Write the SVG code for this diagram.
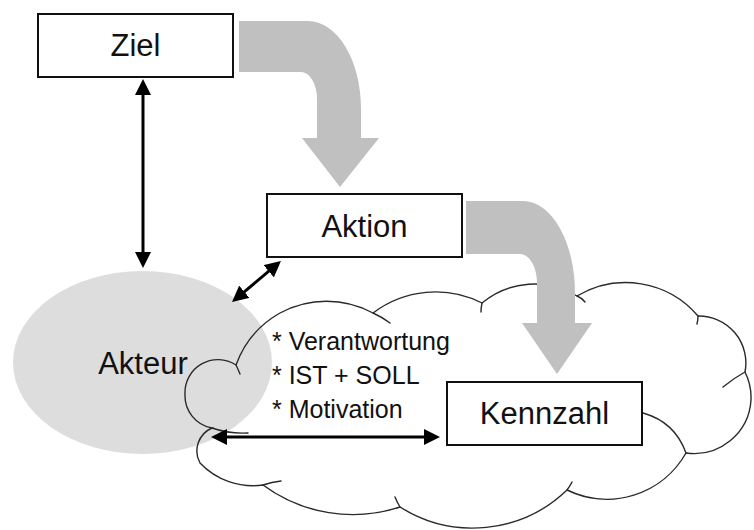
<svg xmlns="http://www.w3.org/2000/svg" width="754" height="530" viewBox="0 0 754 530">
  <style>
    .box { fill: #ffffff; stroke: #111111; stroke-width: 2; }
    .lbl { font-family: "Liberation Sans", Arial, sans-serif; font-size: 31px; fill: #111111; text-anchor: middle; }
    .note { font-family: "Liberation Sans", Arial, sans-serif; font-size: 25px; fill: #111111; }
    .cloud { fill: none; stroke: #2a2a2a; stroke-width: 1.4; stroke-linecap: round; }
    .flow { fill: #c0c0c0; stroke: none; }
    .link { fill: none; stroke: #000000; stroke-width: 3; marker-start: url(#head); marker-end: url(#head); }
  </style>
  <defs>
    <marker id="head" markerUnits="userSpaceOnUse" markerWidth="16" markerHeight="16" viewBox="0 0 16 16" refX="6" refY="8" orient="auto-start-reverse">
      <path d="M0,0 L16,8 L0,16 Z" fill="#000000"/>
    </marker>
  </defs>

  <rect width="754" height="530" fill="#ffffff"/>

  <!-- Akteur: grey ellipse -->
  <g id="akteur">
    <ellipse cx="142.5" cy="362.5" rx="129.5" ry="91.5" fill="#dddddd"/>
    <text class="lbl" x="143" y="374">Akteur</text>
  </g>

  <!-- Cloud with its attribute list -->
  <g id="cloud">
    <path class="cloud" d="M212,428
      A33,33 0 0 1 185,394
      A33,33 0 0 1 236,365
      A98,98 0 0 1 280,313
      A98,98 0 0 1 373,313
      A103,103 0 0 1 482,303
      A82,82 0 0 1 577,296
      A95,95 0 0 1 698,316
      A47,47 0 0 1 745,372
      A57,57 0 0 1 751,400
      A57,57 0 0 1 686,453
      A91,91 0 0 1 567,490
      A136,136 0 0 1 400,507
      A151,151 0 0 1 263,485
      A73,73 0 0 1 200,463
      A25,25 0 0 1 212,428 Z"/>
    <path class="cloud" d="M212,428 Q229,434 248,433
      M236,365 Q238,369 240,374
      M373,313 Q382,317 390,323
      M482,303 Q481,308 481,312
      M577,296 Q582,298 585,302
      M698,316 Q698,320 697,324
      M745,372 Q734,378 723,387
      M686,453 Q675,422 643,413
      M567,490 Q570,486 572,482
      M400,507 Q397,502 395,497
      M263,485 Q272,482 281,481"/>
    <text class="note" x="272" y="350">* Verantwortung</text>
    <text class="note" x="272" y="384">* IST + SOLL</text>
    <text class="note" x="272" y="418">* Motivation</text>
  </g>

  <!-- Connectors -->
  <g id="connectors">
    <path class="flow" d="M239,21 H308 A53,88 0 0 1 361,109 V138 H379 L340,187 L302,138 H317 V99 A16,27 0 0 0 301,72 H239 Z"/>
    <path class="flow" d="M466,201 H523 A52,92 0 0 1 575,293 V323 H592 L557,374 L522,323 H537 V283 A17,29 0 0 0 520,254 H466 Z"/>
    <line class="link" x1="143" y1="89" x2="143" y2="258"/>
    <line class="link" x1="273.3" y1="267.4" x2="239.7" y2="295.6"/>
    <line class="link" x1="221" y1="437" x2="430" y2="437"/>
  </g>

  <g id="ziel">
    <rect class="box" x="38" y="14" width="195" height="63"/>
    <text class="lbl" x="135.5" y="56">Ziel</text>
  </g>

  <g id="aktion">
    <rect class="box" x="267" y="194" width="195" height="63"/>
    <text class="lbl" x="364.5" y="237">Aktion</text>
  </g>

  <g id="kennzahl">
    <rect class="box" x="447" y="382" width="195" height="63"/>
    <text class="lbl" x="544.5" y="424">Kennzahl</text>
  </g>
</svg>
